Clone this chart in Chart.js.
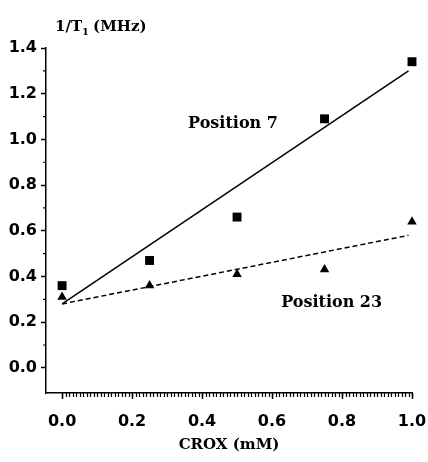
<!DOCTYPE html>
<html>
<head>
<meta charset="utf-8">
<script src="https://cdn.jsdelivr.net/npm/chart.js@4/dist/chart.umd.min.js"></script>
<style>
  html, body { margin: 0; padding: 0; background: #fff; }
  #wrap { width: 428px; height: 462px; }
</style>
</head>
<body>
<div id="wrap"><canvas id="chart" width="428" height="462"></canvas></div>
<script>
// CROX concentration (mM)
const crox = [0, 0.25, 0.5, 0.75, 1.0];
// measured 1/T1 (MHz)
const pos7 = [0.36, 0.47, 0.66, 1.09, 1.34];
const pos23 = [0.31, 0.36, 0.41, 0.43, 0.64];
// fitted lines (end points)
const fitX = [0, 0.99];
const fit7 = [0.28, 1.30];
const fit23 = [0.28, 0.58];

const xTicks = [0, 0.2, 0.4, 0.6, 0.8, 1.0];
const yTicks = [0, 0.2, 0.4, 0.6, 0.8, 1.0, 1.2, 1.4];

const pts = (xs, ys) => xs.map((x, i) => ({ x: x, y: ys[i] }));

const serif = '"DejaVu Serif", "Liberation Serif", serif';
const sans = '"DejaVu Sans", Arial, sans-serif';

// minor ticks, axis title at the top and the in-plot labels
const extras = {
  id: 'extras',
  afterDraw(chart) {
    const ctx = chart.ctx;
    const x = chart.scales.x, y = chart.scales.y;
    const area = chart.chartArea;
    ctx.save();
    ctx.strokeStyle = '#000';
    ctx.lineWidth = 1.2;
    ctx.beginPath();
    for (let i = 0; i <= 100; i++) {
      const px = Math.round(x.getPixelForValue(i / 100)) + 0.5;
      ctx.moveTo(px, area.bottom);
      ctx.lineTo(px, area.bottom + 4);
    }
    for (let i = 1; i < 14; i += 2) {
      const py = y.getPixelForValue(i / 10);
      ctx.moveTo(area.left, py);
      ctx.lineTo(area.left - 3, py);
    }
    ctx.stroke();

    ctx.fillStyle = '#000';
    ctx.textBaseline = 'middle';
    ctx.font = 'bold 16px ' + serif;
    ctx.fillText('Position 7', x.getPixelForValue(0.36), y.getPixelForValue(1.068));
    ctx.fillText('Position 23', x.getPixelForValue(0.626), y.getPixelForValue(0.284));

    // y title: 1/T1 (MHz)
    ctx.textBaseline = 'alphabetic';
    ctx.font = 'bold 15px ' + serif;
    let tx = 55;
    const base = 31;
    ctx.fillText('1/T', tx, base);
    tx += ctx.measureText('1/T').width;
    ctx.font = 'bold 10px ' + serif;
    ctx.fillText('1', tx, base + 4);
    tx += ctx.measureText('1').width + 4;
    ctx.font = 'bold 15px ' + serif;
    ctx.fillText('(MHz)', tx, base);
    ctx.restore();
  }
};

new Chart(document.getElementById('chart'), {
  type: 'scatter',
  data: {
    datasets: [
      {
        type: 'line', data: pts(fitX, fit7), borderColor: '#000', borderWidth: 1.5,
        pointRadius: 0, fill: false, clip: false
      },
      {
        type: 'line', data: pts(fitX, fit23), borderColor: '#000', borderWidth: 1.5,
        borderDash: [5, 3], pointRadius: 0, fill: false, clip: false
      },
      {
        data: pts(crox, pos7), pointStyle: 'rect', pointRadius: 6.3, clip: false,
        backgroundColor: '#000', borderColor: '#000', borderWidth: 0
      },
      {
        data: pts(crox, pos23), pointStyle: 'triangle', pointRadius: 5.5, clip: false,
        backgroundColor: '#000', borderColor: '#000', borderWidth: 0
      }
    ]
  },
  options: {
    responsive: false,
    animation: false,
    events: [],
    layout: { padding: { top: 48, right: 16, left: 0, bottom: 0 } },
    plugins: { legend: { display: false }, tooltip: { enabled: false } },
    scales: {
      x: {
        type: 'linear', min: -0.046, max: 1.0,
        afterBuildTicks: s => { s.ticks = xTicks.map(v => ({ value: v })); },
        afterFit: s => { s.height = 69; s.paddingLeft = 0; s.paddingRight = 0; },
        border: { color: '#000', width: 1.5 },
        grid: { drawOnChartArea: false, tickLength: 6, tickColor: '#000', tickWidth: 1.5 },
        ticks: {
          color: '#000', padding: 13, maxRotation: 0,
          font: { family: sans, size: 16, weight: 'bold' },
          callback: v => v.toFixed(1)
        },
        title: {
          display: true, text: 'CROX (mM)', color: '#000', padding: { top: 0, bottom: 8 },
          font: { family: serif, size: 15, weight: 'bold' }
        }
      },
      y: {
        type: 'linear', min: -0.11, max: 1.4,
        afterBuildTicks: s => { s.ticks = yTicks.map(v => ({ value: v })); },
        afterFit: s => { s.width = 46; },
        border: { color: '#000', width: 1.5 },
        grid: { drawOnChartArea: false, tickLength: 5, tickColor: '#000', tickWidth: 1.5 },
        ticks: {
          color: '#000', padding: 4,
          font: { family: sans, size: 16, weight: 'bold' },
          callback: v => v.toFixed(1)
        }
      }
    }
  },
  plugins: [extras]
});
</script>
</body>
</html>
